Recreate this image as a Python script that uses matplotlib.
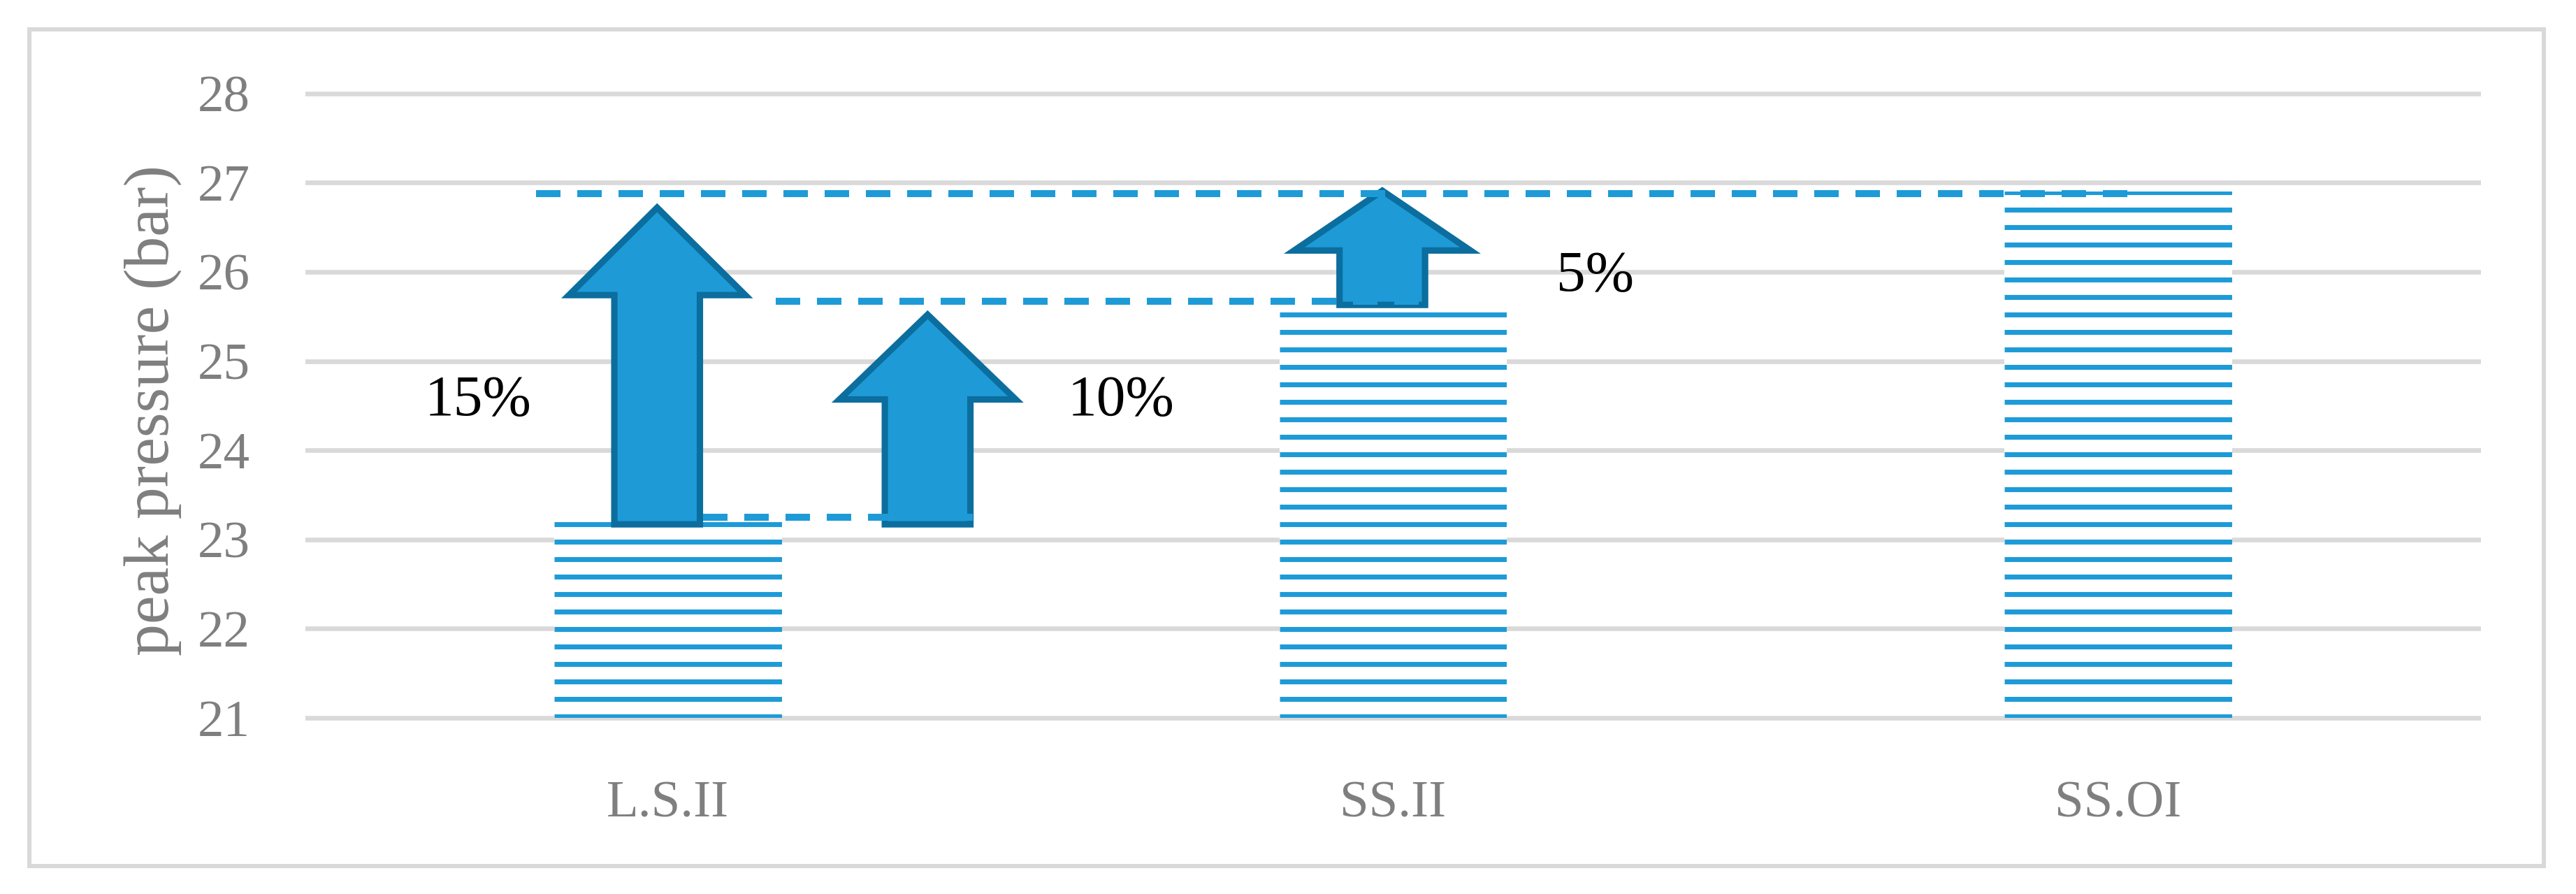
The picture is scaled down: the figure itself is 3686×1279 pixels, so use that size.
import numpy as np
import matplotlib.pyplot as plt
from matplotlib.patches import FancyArrow, Rectangle

# data
categories = ['L.S.II', 'SS.II', 'SS.OI']
peak_pressure = [23.2, 25.6, 26.9]
y_ticks = [21, 22, 23, 24, 25, 26, 27, 28]

# arrows: x position, start, end
arrow_x = [-0.015, 0.358, 0.985]
arrow_start = [23.17, 23.17, 25.63]
arrow_end = [26.72, 25.52, 26.91]
arrow_head = [0.98, 0.95, 0.67]

# dashed reference lines: level, x from, x to
ref_level = [26.88, 25.67, 23.25]
ref_x0 = [-0.182, 0.149, -0.065]
ref_x1 = [2.02, 1.045, 0.42]

# percent labels
pct_text = ['15%', '10%', '5%']
pct_x = [-0.262, 0.625, 1.279]
pct_y = [24.55, 24.55, 25.94]

blue = '#1E9BD7'
dark = '#0B6E9E'
grey = '#7F7F7F'
gridc = '#D9D9D9'

plt.rcParams['font.family'] = ['Liberation Serif', 'DejaVu Serif']

W, H = 3687, 1279
fig = plt.figure(figsize=(W / 300, H / 300), dpi=300)

# outer frame
fig.patches.append(Rectangle((42 / W, 1 - 1239 / H), (3640 - 42) / W, (1239 - 42) / H,
                             transform=fig.transFigure, fill=False,
                             edgecolor=gridc, linewidth=1.45))

ax = fig.add_axes([437 / W, 1 - 1033.4 / H, (3550 - 437) / W, 906 / H])
ax.set_xlim(-0.5, 2.5)
ax.set_ylim(20.95, 28.05)

x = np.arange(len(categories))
bar_w = 0.314
bars = ax.bar(x, np.array(peak_pressure) - 21, bottom=21, width=bar_w,
              facecolor='white', edgecolor='none', linewidth=0, zorder=2)

# horizontal line pattern inside the bars
hatch_levels = 26.893 - 0.1959 * np.arange(31)
for rect, xc in zip(bars, x):
    lc = ax.hlines(hatch_levels, xc - bar_w / 2, xc + bar_w / 2,
                   color=blue, linewidth=1.7, zorder=2.5)
    lc.set_clip_path(rect)

for xa, y0, y1, hl in zip(arrow_x, arrow_start, arrow_end, arrow_head):
    ax.add_patch(FancyArrow(xa, y0, 0, y1 - y0, width=0.118, head_width=0.243,
                            head_length=hl, length_includes_head=True,
                            facecolor=blue, edgecolor=dark, linewidth=2.2,
                            joinstyle='miter', zorder=3))

for lv, a, b in zip(ref_level, ref_x0, ref_x1):
    ax.plot([a, b], [lv, lv], color=blue, linewidth=2.4,
            linestyle=(0, (3.5, 2.4)), zorder=4)

for t, px, py in zip(pct_text, pct_x, pct_y):
    ax.text(px, py, t, fontsize=20, ha='center', va='center', color='black')

ax.set_yticks(y_ticks)
ax.set_xticks(x)
ax.set_xticklabels(categories)
ax.grid(axis='y', color=gridc, linewidth=1.6, zorder=0)
ax.set_axisbelow(True)
for s in ax.spines.values():
    s.set_visible(False)
ax.tick_params(axis='both', length=0, labelsize=18, labelcolor=grey)
ax.tick_params(axis='y', pad=19)
ax.tick_params(axis='x', pad=20)

ax.set_ylabel('peak pressure (bar)', fontsize=22, color=grey)
ax.yaxis.set_label_coords(-0.0569, 0.493)

fig.savefig('out.png', dpi=300)
